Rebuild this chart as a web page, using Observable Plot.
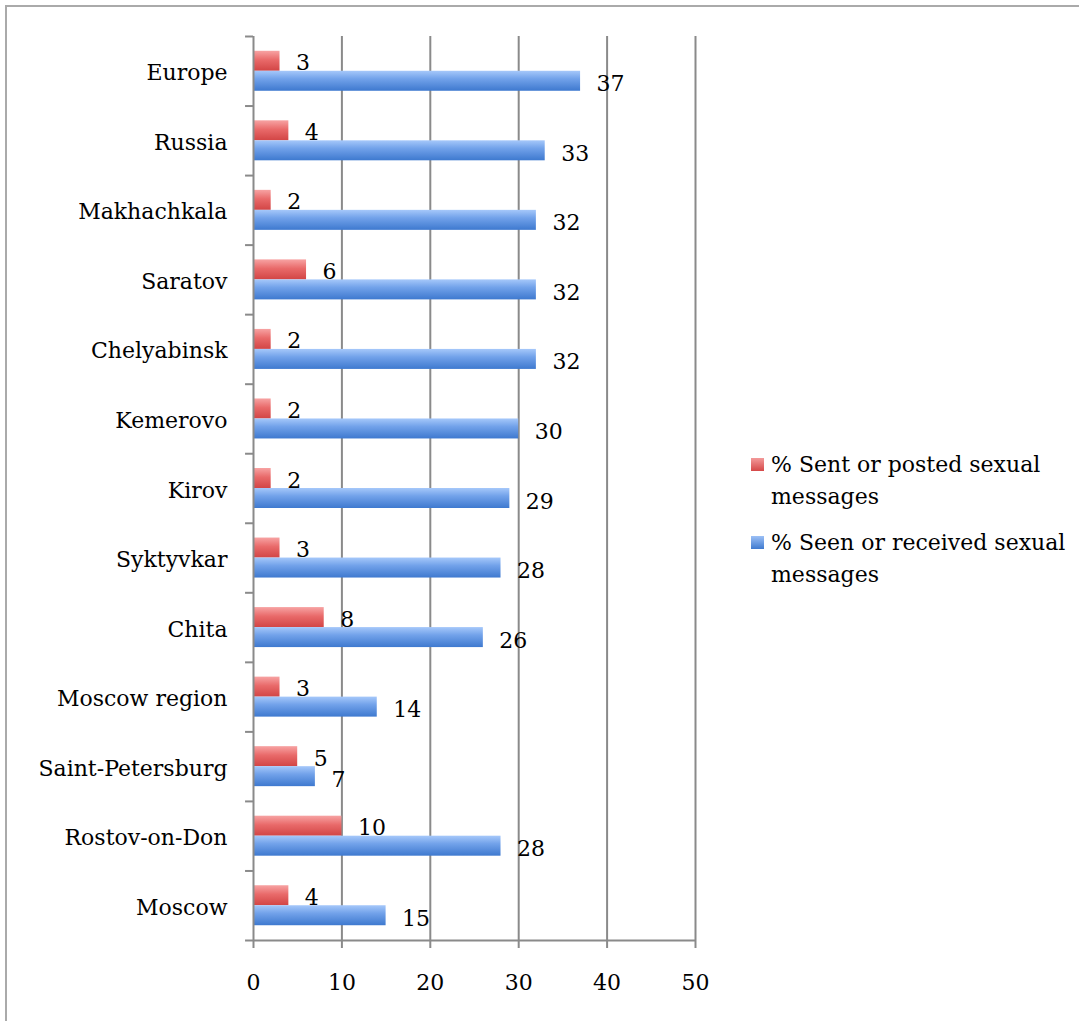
<!DOCTYPE html>
<html>
<head>
<meta charset="utf-8">
<script src="https://cdn.jsdelivr.net/npm/d3@7"></script>
<script src="https://cdn.jsdelivr.net/npm/@observablehq/plot@0.6"></script>
<style>
  html, body { margin: 0; padding: 0; background: #fff; overflow: hidden; }
  #wrap { position: relative; width: 1079px; height: 1021px; font-family: "DejaVu Serif", serif; }
  #frame { position: absolute; left: 5px; top: 5px; width: 2000px; height: 2000px; border: 2px solid #aaa; box-sizing: border-box; }
  #chart { position: absolute; left: 0; top: 0; }
  .leg { position: absolute; left: 751px; font-size: 22px; color: #000; line-height: 32px; }
  .leg .sw { position: absolute; left: 0; top: 9px; width: 13px; height: 13px; }
  .leg .tx { position: absolute; left: 20px; top: 0; white-space: nowrap; }
</style>
</head>
<body>
<div id="wrap">
  <div id="frame"></div>
  <div id="chart"></div>
  <div id="legend"></div>
</div>
<script>
const categories = ["Europe", "Russia", "Makhachkala", "Saratov", "Chelyabinsk", "Kemerovo", "Kirov", "Syktyvkar", "Chita", "Moscow region", "Saint-Petersburg", "Rostov-on-Don", "Moscow"];
const sentValues = [3, 4, 2, 6, 2, 2, 2, 3, 8, 3, 5, 10, 4];
const seenValues = [37, 33, 32, 32, 32, 30, 29, 28, 26, 14, 7, 28, 15];
const seriesNames = ["% Sent or posted sexual messages", "% Seen or received sexual messages"];
const xTicks = [0, 10, 20, 30, 40, 50];

const sent = categories.map((c, i) => ({cat: c, value: sentValues[i]}));
const seen = categories.map((c, i) => ({cat: c, value: seenValues[i]}));

const W = 1079, H = 1021;
const mTop = 36, mBottom = H - 940, mLeft = 253, mRight = W - 695;
const band = (940 - 36) / categories.length;
const half = band / 2;
const font = "DejaVu Serif";
const gridColor = "#8a8a8a";
const shadow = {filter: "drop-shadow(1px 2px 1.5px rgba(0,0,0,0.25))"};

const chart = Plot.plot({
  width: W,
  height: H,
  marginTop: mTop,
  marginBottom: mBottom,
  marginLeft: mLeft,
  marginRight: mRight,
  style: {fontFamily: font, fontSize: "22px", color: "#000", background: "transparent"},
  x: {domain: [0, 50], label: null},
  y: {domain: categories, padding: 0, round: false, label: null},
  marks: [
    Plot.ruleX(xTicks.slice(1), {stroke: gridColor, strokeWidth: 2, strokeOpacity: 1}),
    Plot.barX(sent, {x: "value", y: "cat", fill: "url(#gradRed)", insetTop: half - 20, insetBottom: half, style: shadow}),
    Plot.barX(seen, {x: "value", y: "cat", fill: "url(#gradBlue)", insetTop: half, insetBottom: half - 20, style: shadow}),
    Plot.text(sent, {x: "value", y: "cat", text: d => String(d.value), dx: 16, dy: -8, textAnchor: "start", fontSize: 22, fill: "#000"}),
    Plot.text(seen, {x: "value", y: "cat", text: d => String(d.value), dx: 16, dy: 13, textAnchor: "start", fontSize: 22, fill: "#000"}),
    Plot.ruleX([0], {stroke: gridColor, strokeWidth: 2, strokeOpacity: 1}),
    Plot.ruleY(categories, {y: d => d, x1: -0.9, x2: 0, dy: -half, stroke: gridColor, strokeWidth: 2, strokeOpacity: 1}),
    Plot.ruleY([categories[categories.length - 1]], {y: d => d, x1: -0.9, x2: 50, dy: half, stroke: gridColor, strokeWidth: 2, strokeOpacity: 1}),
    Plot.tickX(xTicks, {x: d => d, y: () => categories[categories.length - 1], dy: half + 4, stroke: gridColor, strokeWidth: 2, insetTop: half - 4, insetBottom: half - 4}),
    Plot.axisX(xTicks, {tickSize: 0, tickPadding: 34, fontSize: 22, fill: "#000", label: null}),
    Plot.axisY({tickSize: 0, tickPadding: 26, fontSize: 22, fill: "#000", dy: 2, label: null})
  ]
});

// gradients for the bars
const ns = "http://www.w3.org/2000/svg";
const defs = document.createElementNS(ns, "defs");
function grad(id, stops) {
  const g = document.createElementNS(ns, "linearGradient");
  g.setAttribute("id", id);
  g.setAttribute("x1", "0"); g.setAttribute("y1", "0");
  g.setAttribute("x2", "0"); g.setAttribute("y2", "1");
  for (const [o, c] of stops) {
    const s = document.createElementNS(ns, "stop");
    s.setAttribute("offset", o);
    s.setAttribute("stop-color", c);
    g.appendChild(s);
  }
  defs.appendChild(g);
}
grad("gradRed", [["0%", "#f7a3a3"], ["45%", "#e96a6a"], ["100%", "#d24545"]]);
grad("gradBlue", [["0%", "#a6c8fa"], ["40%", "#72a2ea"], ["100%", "#3e79cf"]]);
chart.insertBefore(defs, chart.firstChild);

document.getElementById("chart").appendChild(chart);

// legend
const legendTops = [449, 527];
const legendLines = [["% Sent or posted sexual", "messages"], ["% Seen or received sexual", "messages"]];
const legend = document.getElementById("legend");
seriesNames.forEach((name, i) => {
  const item = document.createElement("div");
  item.className = "leg";
  item.style.top = legendTops[i] + "px";
  const sw = document.createElement("div");
  sw.className = "sw";
  sw.style.background = `linear-gradient(${i === 0 ? "#f39a9a, #d54848" : "#9cc0f6, #3f7acf"})`;
  const tx = document.createElement("div");
  tx.className = "tx";
  tx.innerHTML = legendLines[i].join("<br>");
  tx.title = name;
  item.appendChild(sw);
  item.appendChild(tx);
  legend.appendChild(item);
});
</script>
</body>
</html>
